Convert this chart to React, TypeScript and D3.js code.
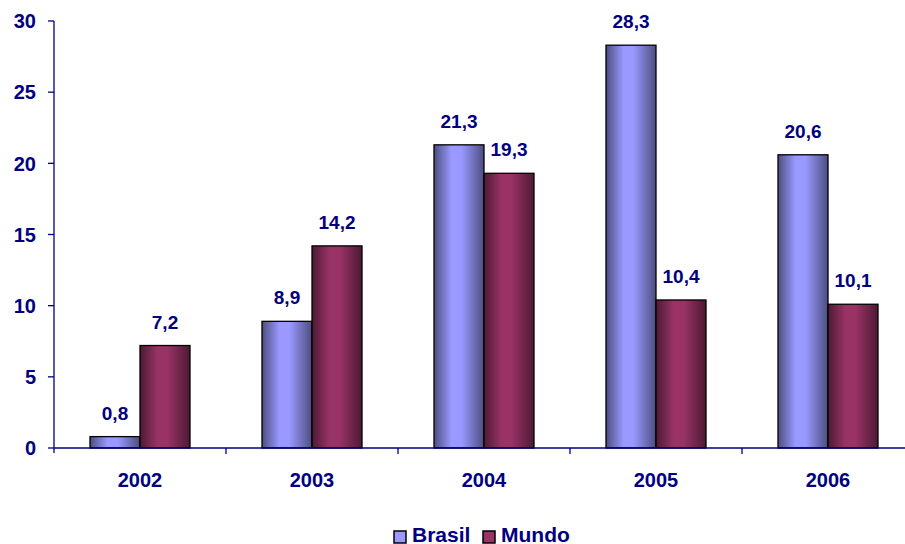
import React from "react";
import * as d3 from "d3";

const categories = ["2002", "2003", "2004", "2005", "2006"];
const brasil = [0.8, 8.9, 21.3, 28.3, 20.6];
const mundo = [7.2, 14.2, 19.3, 10.4, 10.1];
const seriesNames = ["Brasil", "Mundo"];
const yTicks = [0, 5, 10, 15, 20, 25, 30];

const W = 905, H = 544;
const left = 54, right = 914, top = 21, bottom = 448;
const navy = "#000080";
const font = "'Liberation Sans', Arial, sans-serif";

export default function App() {
  const x = d3.scaleBand<string>().domain(categories).range([left, right]);
  const y = d3.scaleLinear().domain([0, 30]).range([bottom, top]);
  const inner = d3.scaleBand<string>().domain(seriesNames).range([0, x.bandwidth()]).paddingOuter(0.72).paddingInner(0);
  const fmt = (v: number) => v.toFixed(1).replace(".", ",");
  const series = [
    { name: "Brasil", values: brasil, grad: "gB", color: "#9999ff" },
    { name: "Mundo", values: mundo, grad: "gM", color: "#993366" },
  ];
  return (
    <svg width={W} height={H} style={{ position: "absolute", left: 0, top: 0 }}>
      <defs>
        <linearGradient id="gB" x1="0" x2="1" y1="0" y2="0">
          <stop offset="0" stopColor="#4d4d80" />
          <stop offset="0.35" stopColor="#9999ff" />
          <stop offset="0.55" stopColor="#9999ff" />
          <stop offset="1" stopColor="#4d4d80" />
        </linearGradient>
        <linearGradient id="gM" x1="0" x2="1" y1="0" y2="0">
          <stop offset="0" stopColor="#4d1a33" />
          <stop offset="0.35" stopColor="#993366" />
          <stop offset="0.55" stopColor="#993366" />
          <stop offset="1" stopColor="#4d1a33" />
        </linearGradient>
      </defs>
      {/* y axis */}
      <line x1={left} x2={left} y1={top} y2={bottom + 5} stroke={navy} strokeWidth={1.3} />
      {yTicks.map((t) => (
        <g key={t}>
          <line x1={left - 6} x2={left} y1={y(t)} y2={y(t)} stroke={navy} strokeWidth={1.3} />
          <text x={36} y={y(t)} dy="0.36em" textAnchor="end" fontFamily={font} fontWeight="bold" fontSize={20} fill={navy}>{t}</text>
        </g>
      ))}
      {/* bars */}
      {series.map((s) =>
        categories.map((c, i) => {
          const bx = (x(c) as number) + (inner(s.name) as number);
          const v = s.values[i];
          return (
            <g key={s.name + c}>
              <rect x={bx} y={y(v)} width={inner.bandwidth()} height={bottom - y(v)} fill={`url(#${s.grad})`} stroke="#000" strokeWidth={1.3} />
              <text x={bx + inner.bandwidth() / 2} y={y(v) - 17} textAnchor="middle" fontFamily={font} fontWeight="bold" fontSize={19} fill={navy}>{fmt(v)}</text>
            </g>
          );
        })
      )}
      {/* x axis */}
      <line x1={left} x2={right} y1={bottom} y2={bottom} stroke={navy} strokeWidth={1.3} />
      {categories.map((c) => (
        <g key={c}>
          <line x1={(x(c) as number) + x.bandwidth()} x2={(x(c) as number) + x.bandwidth()} y1={bottom} y2={bottom + 6} stroke={navy} strokeWidth={1.3} />
          <text x={(x(c) as number) + x.bandwidth() / 2} y={487} textAnchor="middle" fontFamily={font} fontWeight="bold" fontSize={20} fill={navy}>{c}</text>
        </g>
      ))}
      {/* legend */}
      <g>
        <rect x={394} y={531} width={12} height={12} fill="#9999ff" stroke="#000" strokeWidth={1.5} />
        <text x={412} y={542} fontFamily={font} fontWeight="bold" fontSize={21} fill={navy}>{seriesNames[0]}</text>
        <rect x={483} y={531} width={12} height={12} fill="#993366" stroke="#000" strokeWidth={1.5} />
        <text x={501} y={542} fontFamily={font} fontWeight="bold" fontSize={21} fill={navy}>{seriesNames[1]}</text>
      </g>
    </svg>
  );
}
